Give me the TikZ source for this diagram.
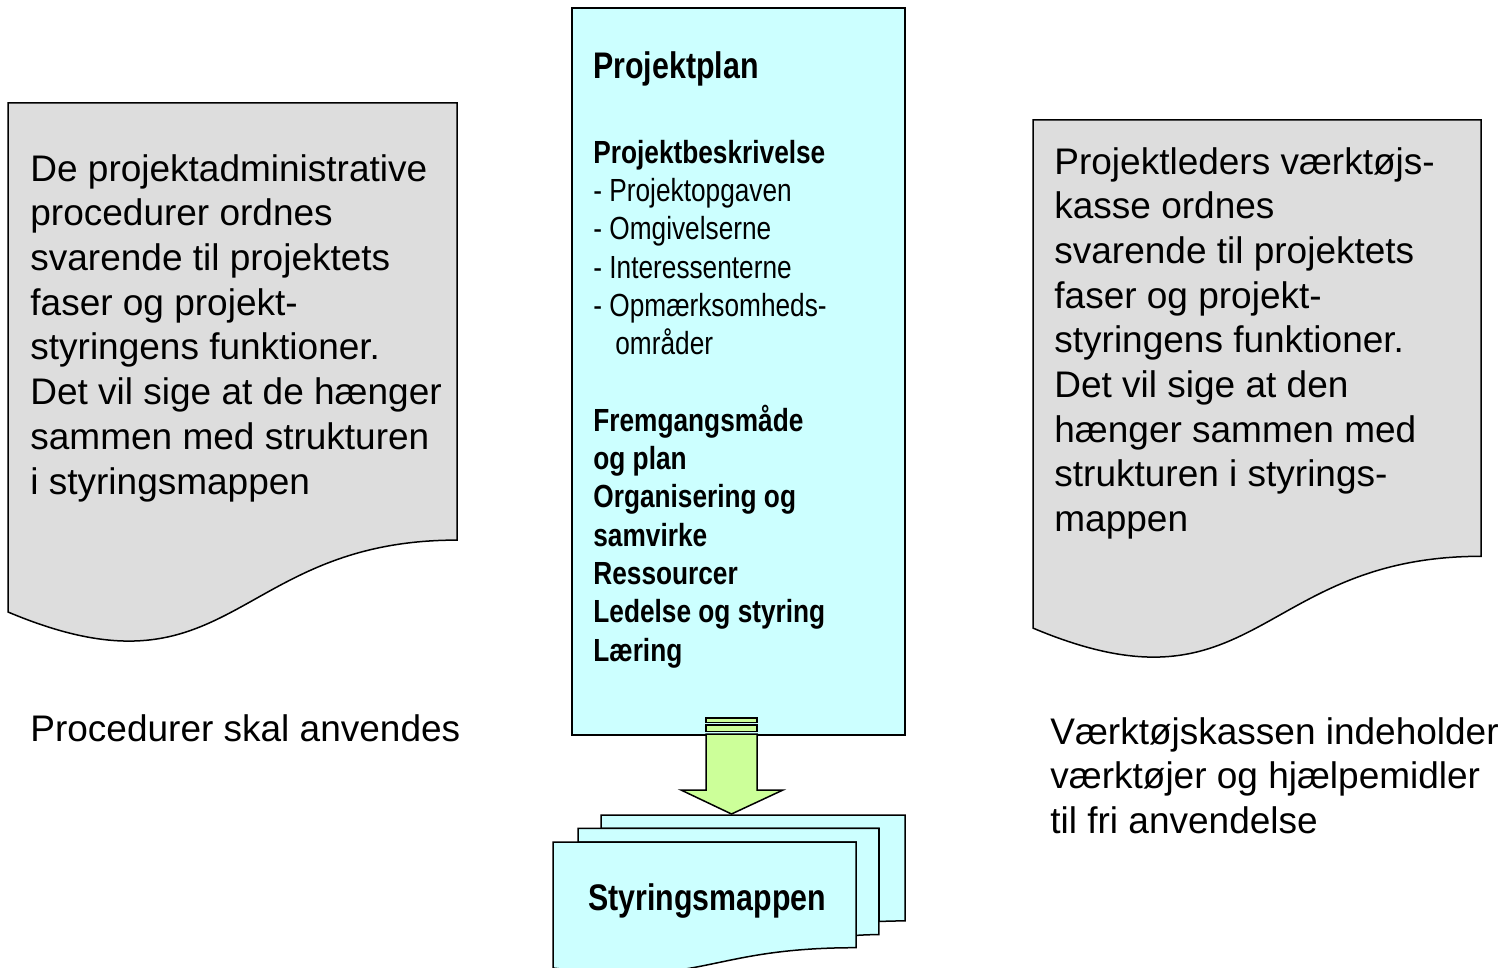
\documentclass[tikz,border=0pt]{standalone}
\usepackage{fontspec}
\setmainfont{Liberation Sans}
\newfontfamily\narrowfont{Liberation Sans}[FakeStretch=0.82]
\definecolor{docgray}{HTML}{DDDDDD}
\definecolor{plancyan}{HTML}{CCFFFF}
\definecolor{arrowgreen}{HTML}{CCFF99}
\begin{document}
\begin{tikzpicture}[x=0.5pt,y=-0.5pt,
  outline/.style={draw=black, line width=0.75pt, line join=miter},
  docshape/.style={outline, fill=docgray},
  planshape/.style={outline, fill=plancyan},
  arrowshape/.style={outline, fill=arrowgreen},
  bigtext/.style={inner sep=0pt, align=left, font=\fontsize{18.5}{22.35}\selectfont, anchor=base west},
  plantext/.style={inner sep=0pt, align=left, font=\narrowfont\fontsize{16}{19.15}\selectfont, anchor=base west},
  titletext/.style={inner sep=0pt, font=\narrowfont\bfseries\fontsize{18.5}{22}\selectfont, anchor=base west}
]
\useasboundingbox (0,0) rectangle (1510,968);

% left document
\path[docshape] (8,103) -- (457,103) -- (457,540.1)
  .. controls (232.5,540.1) and (232.5,706.6) .. (8,612) -- cycle;
% anchor base = baseline of last line
\node[bigtext] (lefttext) at (30,494) {De projektadministrative\\procedurer ordnes\\svarende til projektets\\faser og projekt-\\styringens funktioner.\\Det vil sige at de hænger\\sammen med strukturen\\i styringsmappen};
\node[bigtext] (leftlabel) at (30,741) {Procedurer skal anvendes};

% right document
\path[docshape] (1033,120) -- (1481,120) -- (1481,556.3)
  .. controls (1257,556.3) and (1257,722.5) .. (1033,628.1) -- cycle;
\node[bigtext] (righttext) at (1054,531.6) {Projektleders værktøjs-\\kasse ordnes\\svarende til projektets\\faser og projekt-\\styringens funktioner.\\Det vil sige at den\\hænger sammen med\\strukturen i styrings-\\mappen};
\node[bigtext] (rightlabel) at (1050,833.4) {Værktøjskassen indeholder\\værktøjer og hjælpemidler\\til fri anvendelse};

% centre plan box
\path[planshape] (572,8) rectangle (905,735);
\node[titletext] (plantitle) at (593,79) {Projektplan};
\node[plantext] (plancontent) at (593,661) {\textbf{Projektbeskrivelse}\\
- Projektopgaven\\
- Omgivelserne\\
- Interessenterne\\
- Opmærksomheds-\\
\hspace*{11pt}områder\\
\mbox{}\\
\textbf{Fremgangsmåde}\\
\textbf{og plan}\\
\textbf{Organisering og}\\
\textbf{samvirke}\\
\textbf{Ressourcer}\\
\textbf{Ledelse og styring}\\
\textbf{Læring}};

% striped down arrow
\path[arrowshape] (706,718) rectangle (757,722.5);
\path[arrowshape] (706,725) rectangle (757,731.5);
\path[arrowshape] (706,734) -- (757,734) -- (757,790) -- (783,790) -- (731.5,814)
  -- (681,790) -- (706,790) -- cycle;

% multidocument
\path[planshape] (601,815) -- (905,815) -- (905,920.9)
  .. controls (892,920.9) and (879,921.5) .. (879,921.5) -- (879,828.4) -- (601,828.4) -- cycle;
\path[planshape] (578,828.4) -- (878.9,828.4) -- (878.9,934.6)
  .. controls (867.5,934.6) and (856,935.4) .. (856,935.4) -- (856,842) -- (578,842) -- cycle;
\path[planshape] (553,842) -- (856,842) -- (856,947.7)
  .. controls (704.5,947.7) and (704.5,988.3) .. (553,968) -- cycle;
\node[titletext] (mappe) at (588,910) {Styringsmappen};
\end{tikzpicture}
\end{document}
